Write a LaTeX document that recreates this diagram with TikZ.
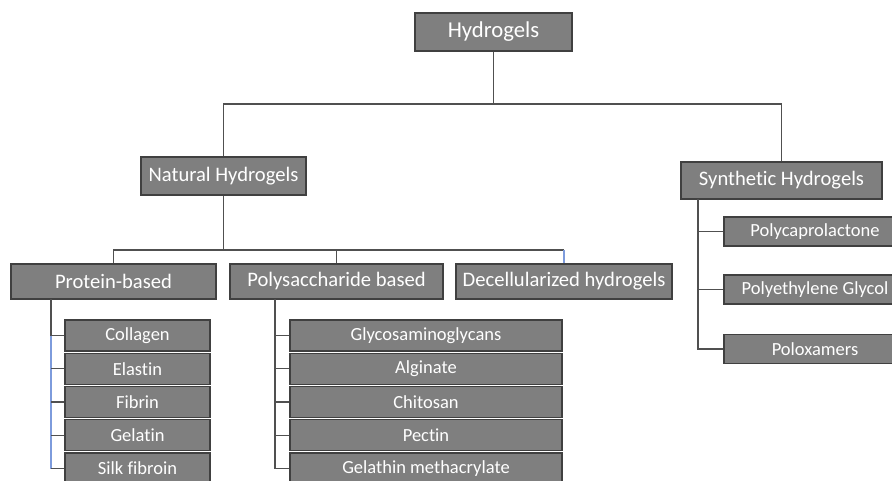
\documentclass[tikz,border=0pt]{standalone}
\usepackage{fontspec}
\setmainfont{Carlito}[Ligatures=NoCommon]
\definecolor{boxgray}{RGB}{127,127,127}
\definecolor{boxline}{RGB}{64,64,64}
\definecolor{connline}{RGB}{80,80,80}
\definecolor{connblue}{RGB}{125,155,220}
\begin{document}
\begin{tikzpicture}[x=1pt,y=-1pt,
    box/.style={draw=boxline,fill=boxgray,text=white,line width=1.2pt,inner sep=0pt},
    toplevel/.style={box,font=\fontsize{22.7}{26}\selectfont},
    midlevel/.style={box,font=\fontsize{20.6}{24}\selectfont},
    leaf/.style={box,font=\fontsize{18.5}{22}\selectfont},
    conn/.style={draw=connline,line width=1.2pt},
    connb/.style={draw=connblue,line width=1.2pt}]
                \useasboundingbox (0,0) rectangle (892,481);
                \clip (0,0) rectangle (892,481);
                \node [toplevel,minimum width=157pt,minimum height=38pt] (hyd) at (493.5,32) {Hydrogels};
                \node [midlevel,minimum width=165pt,minimum height=38pt] (nat) at (223.5,176) {Natural Hydrogels};
                \node [midlevel,minimum width=201pt,minimum height=37pt] (syn) at (781.5,180.5) {Synthetic Hydrogels};
                \node [midlevel,minimum width=205pt,minimum height=35pt] (prot) at (113.5,281.5) {Protein-based};
                \node [midlevel,minimum width=213pt,minimum height=35pt] (poly) at (336.5,281.5) {Polysaccharide based};
                \node [midlevel,minimum width=216pt,minimum height=35pt] (dec) at (564,281.5) {Decellularized hydrogels};
                \node [leaf,minimum width=145pt,minimum height=31pt] (prot1) at (137.5,335.5) {Collagen};
                \node [leaf,minimum width=145pt,minimum height=31pt] (prot2) at (137.5,368.75) {Elastin};
                \node [leaf,minimum width=145pt,minimum height=31pt] (prot3) at (137.5,402) {Fibrin};
                \node [leaf,minimum width=145pt,minimum height=31pt] (prot4) at (137.5,435.25) {Gelatin};
                \node [leaf,minimum width=145pt,minimum height=31pt] (prot5) at (137.5,468.5) {Silk fibroin};
                \node [leaf,minimum width=272pt,minimum height=31pt] (poly1) at (426,335.5) {Glycosaminoglycans};
                \node [leaf,minimum width=272pt,minimum height=31pt] (poly2) at (426,368.75) {Alginate};
                \node [leaf,minimum width=272pt,minimum height=31pt] (poly3) at (426,402) {Chitosan};
                \node [leaf,minimum width=272pt,minimum height=31pt] (poly4) at (426,435.25) {Pectin};
                \node [leaf,minimum width=272pt,minimum height=31pt] (poly5) at (426,468.5) {Gelathin methacrylate};
                \node [leaf,minimum width=182pt,minimum height=29pt] (syn1) at (815,231.5) {Polycaprolactone};
                \node [leaf,minimum width=182pt,minimum height=29pt] (syn2) at (815,289.5) {Polyethylene Glycol};
                \node [leaf,minimum width=182pt,minimum height=29pt] (syn3) at (815,349) {Poloxamers};
                \coordinate (busa) at (0,104);
                \coordinate (busb) at (0,250);
                \coordinate (protstem) at (51,299);
                \coordinate (polystem) at (275,299);
                \coordinate (synstem) at (698,199);
                \draw [conn] (hyd.south) -- (hyd.south |- busa) -| (nat.north);
                \draw [conn] (hyd.south |- busa) -| (syn.north);
                \draw [conn] (nat.south) -- (nat.south |- busb) -| (prot.north);
                \draw [conn] (nat.south |- busb) -| (poly.north);
                \draw [conn] (nat.south |- busb) -- (dec.north |- busb);
                \draw [connb] (dec.north |- busb) -- (dec.north);
                \foreach \c in {prot1,prot2,prot3,prot4,prot5}
                  \draw [conn] (protstem) |- (\c.west);
                \draw [connb] (protstem |- prot1.west) -- (protstem |- prot5.west);
                \foreach \c in {prot1,prot2,prot3,prot4,prot5}
                  \draw [conn] (protstem |- \c.west) -- (\c.west);
                \foreach \c in {poly1,poly2,poly3,poly4,poly5}
                  \draw [conn] (polystem) |- (\c.west);
                \foreach \c in {syn1,syn2,syn3}
                  \draw [conn] (synstem) |- (\c.west);
              \end{tikzpicture}
\end{document}
